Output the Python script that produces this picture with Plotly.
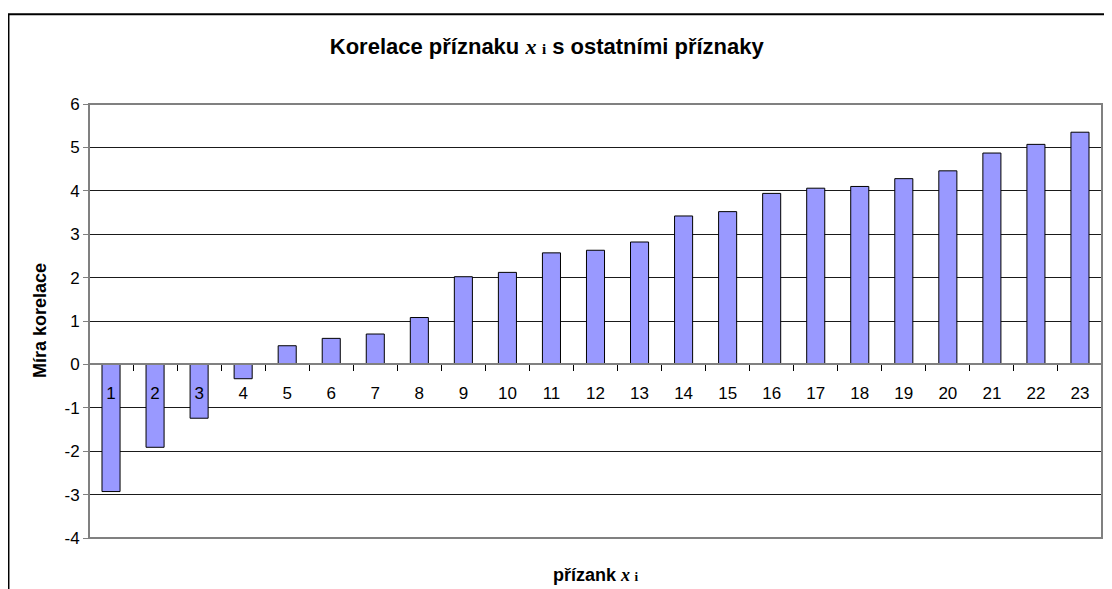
import plotly.graph_objects as go

# znaky 1..23 a jejich mira korelace
priznaky = [str(i) for i in range(1, 24)]
korelace = [-2.93, -1.91, -1.24, -0.33, 0.43, 0.60, 0.70, 1.08, 2.02, 2.12,
            2.57, 2.63, 2.82, 3.42, 3.52, 3.94, 4.06, 4.10, 4.28, 4.46,
            4.87, 5.07, 5.35]
y_ticks = list(range(-4, 7))
y_tick_labels = [str(v) for v in y_ticks]

font_main = "Liberation Sans, Arial, sans-serif"


def serif_x(size):
    return ("<span style='font-family:Liberation Serif, Times New Roman, serif'><i>x</i> "
            "<span style='font-size:%dpx'>i</span></span>" % size)


fig = go.Figure()
fig.add_trace(go.Bar(
    x=priznaky,
    y=korelace,
    marker=dict(color="#9999ff", line=dict(color="#000000", width=1)),
    hoverinfo="x+y",
))

# stranka ma 8px okraj, proto je graf o 8px mensi
fig.update_layout(
    width=1104, height=581,
    margin=dict(l=81, r=10, t=96, b=51, autoexpand=False),
    paper_bgcolor="white",
    plot_bgcolor="white",
    font=dict(family=font_main, size=17, color="black"),
    showlegend=False,
    bargap=0.59,
    title=dict(
        text="<b>Korelace příznaku " + serif_x(15) + " s ostatními příznaky</b>",
        x=0.488, xref="container", xanchor="center",
        y=1 - 38 / 581, yref="container", yanchor="middle",
        font=dict(size=22, family=font_main),
    ),
)

fig.update_xaxes(
    type="category",
    anchor="free",
    position=0.4,
    showline=True, linecolor="#808080", linewidth=2,
    ticks="outside", ticklen=6, tickcolor="#000000", tickwidth=1,
    tickson="boundaries",
    ticklabelstandoff=13,
    showgrid=False,
    tickfont=dict(size=17),
)
fig.update_yaxes(
    range=[-4, 6],
    tickvals=y_ticks, ticktext=y_tick_labels,
    showline=True, linecolor="#808080", linewidth=1,
    ticks="outside", ticklen=5, tickcolor="#808080",
    showgrid=True, gridcolor="#1a1a1a", gridwidth=1,
    zeroline=False,
    tickfont=dict(size=17),
)

# ramecek plochy grafu a vnejsi ramecek
fig.add_shape(type="rect", xref="paper", yref="paper", x0=0, y0=0, x1=1, y1=1,
              line=dict(color="#808080", width=2), layer="above")
fig.add_shape(type="path", xref="paper", yref="paper",
              path="M -0.0795,-0.3 L -0.0795,1.207 L 1.05,1.207",
              line=dict(color="#000000", width=2))

fig.add_annotation(text="<b>Míra korelace</b>", xref="paper", yref="paper",
                   x=-0.0484, y=0.502, textangle=-90, showarrow=False,
                   font=dict(size=18), xanchor="center", yanchor="middle")
fig.add_annotation(text="<b>přízank " + serif_x(13) + "</b>", xref="paper", yref="paper",
                   x=0.5, y=-0.085, showarrow=False,
                   font=dict(size=18), xanchor="center", yanchor="middle")

fig.write_html("out.html")
